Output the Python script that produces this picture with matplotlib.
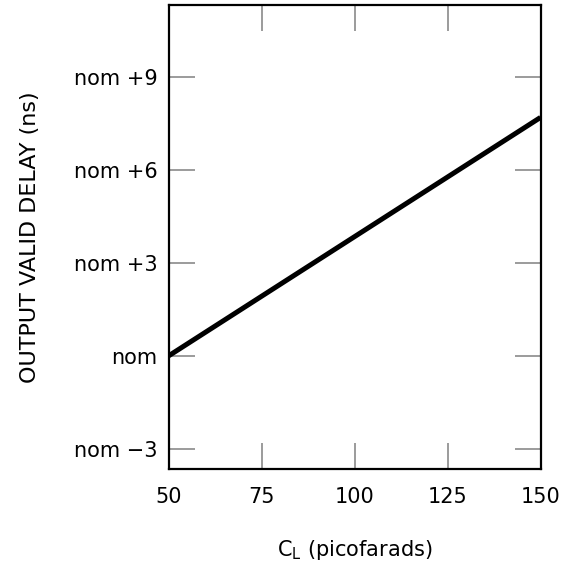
import matplotlib
matplotlib.use('Agg')
import matplotlib.pyplot as plt

# carga (pF) vs atraso relativo ao nominal (ns)
carga_pf = [50, 100, 150]
atraso_ns = [0, 3.85, 7.7]

ticks_x = [50, 75, 100, 125, 150]
ticks_y = [-3, 0, 3, 6, 9]
rotulos_y = ['nom \u22123', 'nom', 'nom +3', 'nom +6', 'nom +9']

plt.rcParams['font.family'] = 'DejaVu Sans'

fig = plt.figure(figsize=(5.61, 5.66), dpi=100)
ax = fig.add_axes([168.5 / 561, 1 - 469 / 566, 372 / 561, 464 / 566])

ax.plot(carga_pf, atraso_ns, color='black', linewidth=3.6, solid_capstyle='butt')

ax.set_xlim(50, 150)
ax.set_ylim(-3.65, 11.33)
ax.set_xticks(ticks_x)
ax.set_yticks(ticks_y)
ax.set_yticklabels(rotulos_y)

ax.tick_params(direction='in', length=19, width=1.1, color='#808080',
               top=True, right=True, labelsize=15)
ax.tick_params(axis='x', pad=13)
ax.tick_params(axis='y', pad=8)
for s in ax.spines.values():
    s.set_linewidth(1.6)

ax.set_xlabel('C$_\\mathregular{L}$ (picofarads)', fontsize=15, labelpad=22)
ax.set_ylabel('OUTPUT VALID DELAY (ns)', fontsize=16, labelpad=24)

fig.savefig('out.png', dpi=100)
